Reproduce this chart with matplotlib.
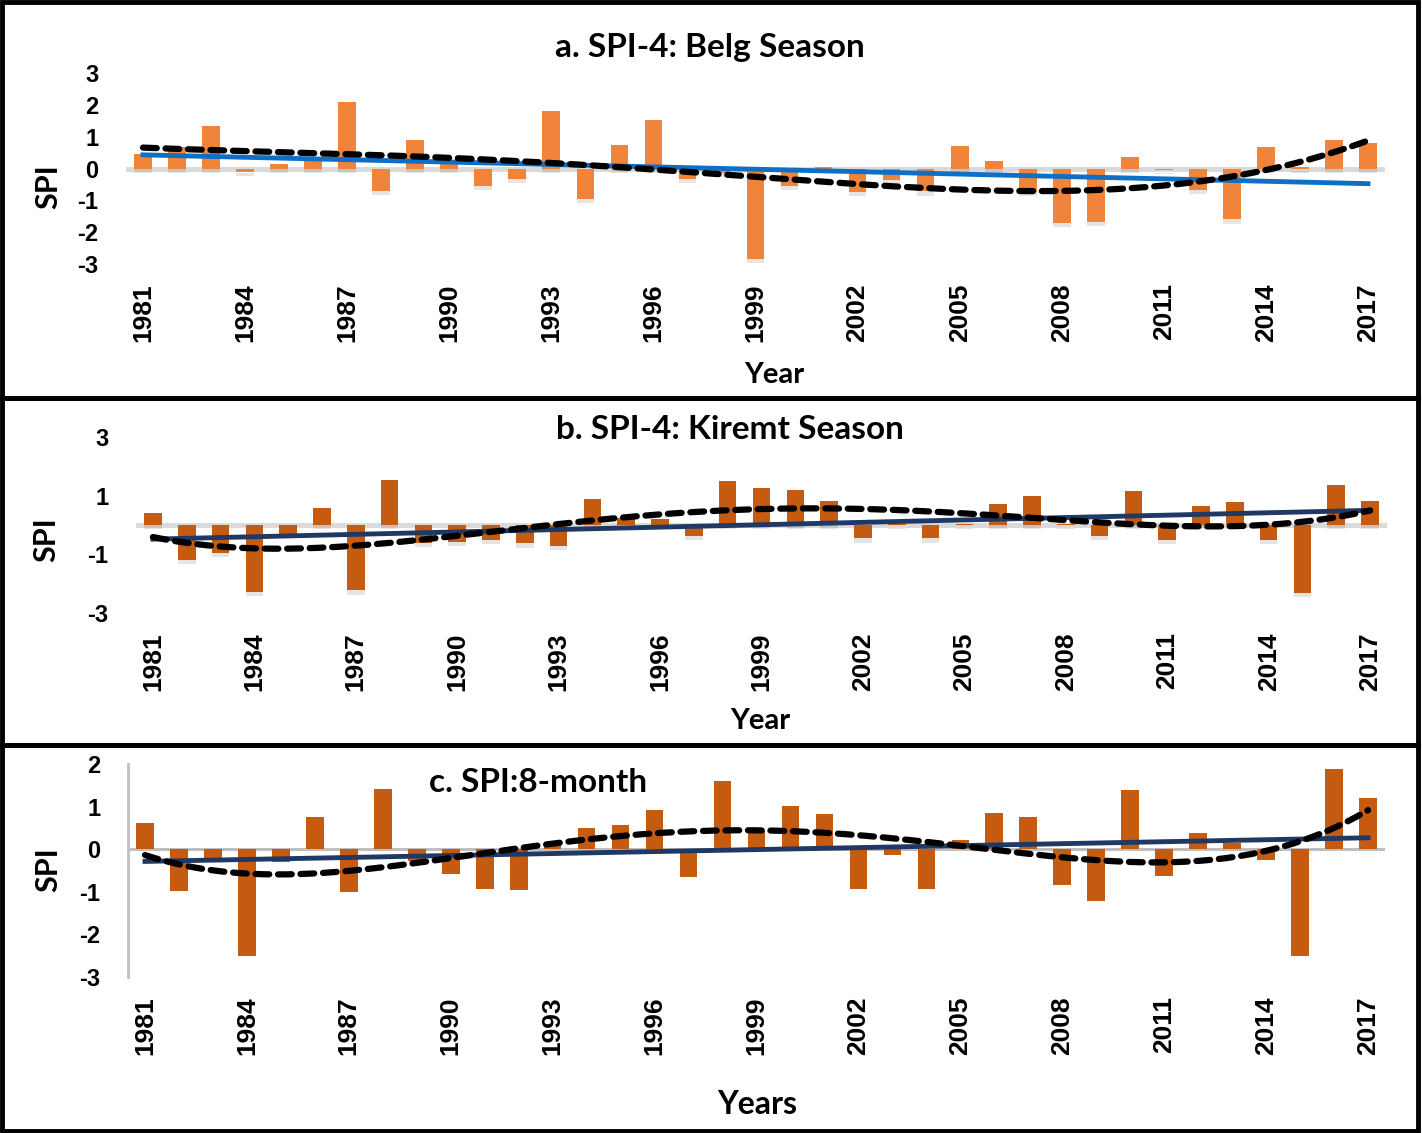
import numpy as np
import matplotlib
matplotlib.use("Agg")
import matplotlib.pyplot as plt
from matplotlib.patches import Rectangle
import matplotlib.patheffects as pe

W, H = 1422, 1133

years = np.arange(1981, 2018)
tick_years = np.arange(1981, 2018, 3)

# SPI values
spi_belg = [0.46, 0.68, 1.34, -0.12, 0.14, 0.25, 2.1, -0.7, 0.88, 0.2,
            -0.55, -0.33, 1.8, -0.95, 0.74, 1.53, -0.33, -0.15, -2.85, -0.55,
            0.05, -0.73, -0.37, -0.72, 0.7, 0.24, -0.73, -1.7, -1.67, 0.37,
            -0.05, -0.68, -1.6, 0.68, 0.05, 0.88, 0.8]
spi_kiremt = [0.41, -1.2, -0.94, -2.27, -0.3, 0.57, -2.23, 1.55, -0.6, -0.57,
              -0.5, -0.63, -0.7, 0.87, 0.25, 0.2, -0.37, 1.49, 1.27, 1.18,
              0.82, -0.46, 0.03, -0.46, 0.03, 0.72, 1.0, 0.03, -0.37, 1.17,
              -0.5, 0.66, 0.79, -0.5, -2.31, 1.38, 0.82]
spi_8month = [0.61, -0.98, -0.3, -2.5, -0.3, 0.75, -1.0, 1.42, -0.27, -0.58,
              -0.94, -0.95, 0.14, 0.5, 0.56, 0.93, -0.66, 1.59, 0.42, 1.02,
              0.82, -0.94, -0.13, -0.93, 0.22, 0.85, 0.75, -0.84, -1.21, 1.39,
              -0.64, 0.37, 0.15, -0.26, -2.5, 1.89, 1.21]

titles = ["a. SPI-4: Belg Season", "b. SPI-4: Kiremt Season", "c. SPI:8-month"]
xlabels = ["Year", "Year", "Years"]


def fx(x):
    return x / W


def fy(y):
    return 1 - y / H


fig = plt.figure(figsize=(W / 100, H / 100), dpi=100)
title_font = ["Lato", "DejaVu Sans"]
tick_font = ["Liberation Sans", "DejaVu Sans"]

# panel frames
for top, bot in [(2, 398), (398, 745), (745, 1131)]:
    fig.add_artist(Rectangle((fx(2), fy(bot)), fx(1418) - fx(2), fy(top) - fy(bot),
                             transform=fig.transFigure, fill=False,
                             edgecolor="black", linewidth=3.5, zorder=10))

panels = [
    # data, left, right, top, bottom, ylim, yticks, bar color, trend color
    (spi_belg, 126, 1385, 73, 264, (-3, 3), [-3, -2, -1, 0, 1, 2, 3], "#F0843A", "#0F6FC6"),
    (spi_kiremt, 136, 1387, 437, 613, (-3, 3), [-3, -1, 1, 3], "#C55A11", "#1F3864"),
    (spi_8month, 128, 1385, 764, 977, (-3, 2), [-3, -2, -1, 0, 1, 2], "#C55A11", "#203864"),
]

for i, (vals, l, r, t, b, ylim, yt, bc, tc) in enumerate(panels):
    ax = fig.add_axes([fx(l), fy(b), fx(r) - fx(l), fy(t) - fy(b)])
    vals = np.array(vals)
    ax.axhline(0, color="#D9D9D9" if i < 2 else "#BFBFBF", lw=3.5 if i < 2 else 2.2, zorder=1)
    bars = ax.bar(years, vals, width=0.52, color=bc, zorder=2)
    if i < 2:
        for p in bars:
            p.set_path_effects([pe.SimplePatchShadow(offset=(0, -3), alpha=0.12), pe.Normal()])
    # linear trend
    k = np.polyfit(years, vals, 1)
    ax.plot(years, np.polyval(k, years), color=tc, lw=3.5, zorder=3)
    # polynomial trend
    c = np.polyfit(years - 1999, vals, 4)
    xs = np.linspace(1981, 2017, 200)
    ax.plot(xs, np.polyval(c, xs - 1999), color="black", lw=4.5, ls=(0, (2.2, 1.4)),
            dash_capstyle="round", zorder=4)
    ax.set_xlim(1980.5, 2017.5)
    ax.set_ylim(*ylim)
    ax.set_yticks(yt)
    ax.set_xticks(tick_years)
    ax.set_xticklabels([str(y) for y in tick_years], rotation=90, fontsize=19,
                       fontweight="bold", family=tick_font)
    ax.set_yticklabels([str(v) for v in yt], fontsize=17, fontweight="bold", family=tick_font)
    ax.tick_params(axis="x", length=0, pad=14)
    ax.tick_params(axis="y", length=0, pad=20)
    for s in ax.spines.values():
        s.set_visible(False)
    if i == 2:
        ax.spines["left"].set_visible(True)
        ax.spines["left"].set_color("#BFBFBF")
        ax.spines["left"].set_linewidth(2)
    ax.patch.set_alpha(0)

# titles and labels
fig.text(fx(710), fy(48), titles[0], ha="center", va="center", fontsize=24,
         fontweight="bold", family=title_font)
fig.text(fx(730), fy(430), titles[1], ha="center", va="center", fontsize=24,
         fontweight="bold", family=title_font)
fig.text(fx(538), fy(783), titles[2], ha="center", va="center", fontsize=24,
         fontweight="bold", family=title_font)

fig.text(fx(774), fy(375), xlabels[0], ha="center", va="center", fontsize=21,
         fontweight="bold", family=title_font)
fig.text(fx(760), fy(721), xlabels[1], ha="center", va="center", fontsize=21,
         fontweight="bold", family=title_font)
fig.text(fx(757), fy(1105), xlabels[2], ha="center", va="center", fontsize=23,
         fontweight="bold", family=title_font)

for x, y in [(48, 187), (46, 540), (48, 870)]:
    fig.text(fx(x), fy(y), "SPI", ha="center", va="center", rotation=90, fontsize=22,
             fontweight="bold", family=title_font)

fig.savefig("out.png", dpi=100)
